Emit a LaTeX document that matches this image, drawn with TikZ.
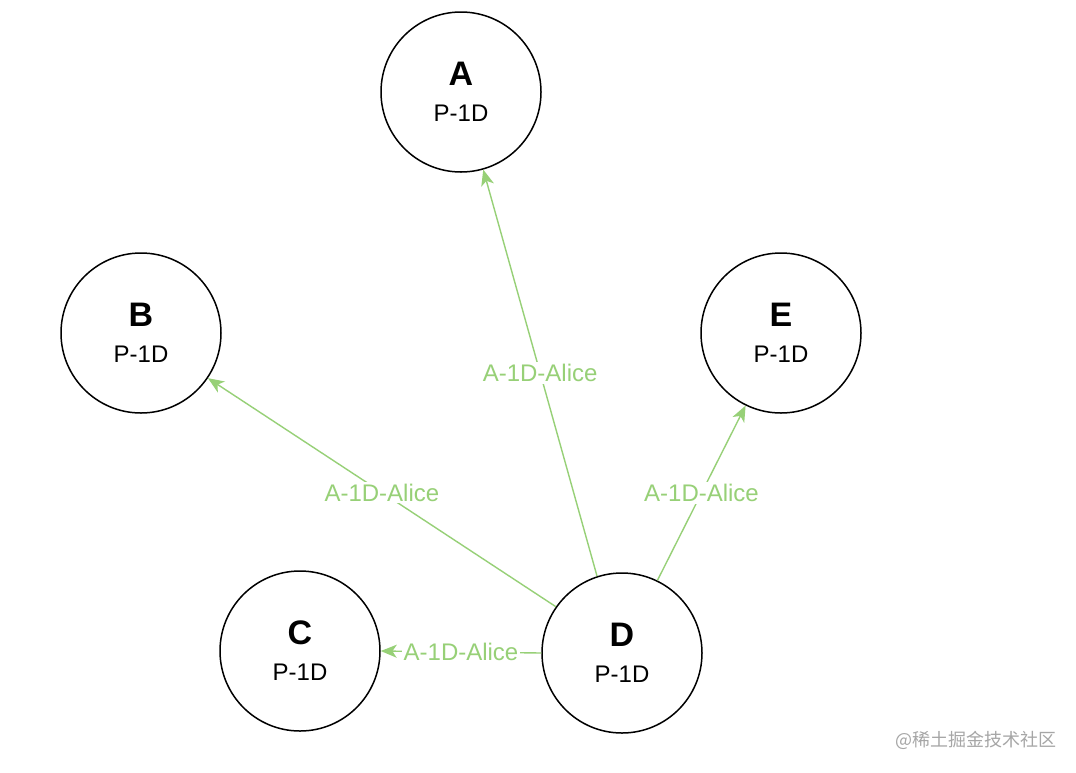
\documentclass[tikz,border=0pt]{standalone}
\usepackage{fontspec}
\setmainfont{Liberation Sans}
\newfontfamily\cjkfont{Noto Sans CJK SC}
\usetikzlibrary{arrows.meta}
\definecolor{linkc}{HTML}{97D077}
\definecolor{markc}{HTML}{A6A6A6}

\tikzset{
  peer/.style={circle, draw=black, line width=0.75pt, minimum size=80pt,
    inner sep=0pt, align=center, font=\fontsize{12}{16}\selectfont},
  link/.style={draw=linkc, line width=0.7pt,
    -{Stealth[length=8pt, width=6.5pt, inset=2.2pt]}},
  linklabel/.style={fill=white, text=linkc, inner sep=1pt,
    font=\fontsize{12}{14}\selectfont}
}
\newcommand{\peername}[1]{{\fontsize{17}{18}\selectfont\bfseries #1}\\[2pt]P-1D}

\begin{document}
\begin{tikzpicture}[x=0.5pt, y=-0.5pt]
  \useasboundingbox[fill=white] (0,0) rectangle (1076,772);
  % peers
  \node[peer] (A) at (461,92)  {\peername{A}};
  \node[peer] (B) at (141,333) {\peername{B}};
  \node[peer] (C) at (300,651) {\peername{C}};
  \node[peer] (D) at (622,653) {\peername{D}};
  \node[peer] (E) at (781,333) {\peername{E}};
  % D tells the others
  \draw[link] (D.108) -- (A.-74) node[linklabel, midway] {A-1D-Alice};
  \draw[link] (D.145) -- (B.-34) node[linklabel, midway] {A-1D-Alice};
  \draw[link] (D.west) -- (C.east) node[linklabel, midway] {A-1D-Alice};
  \draw[link] (D.64) -- (E.-116) node[linklabel, midway] {A-1D-Alice};
  % watermark
  \node[text=markc, font=\cjkfont\fontsize{9}{10}\selectfont] (mark) at (976,740)
    {@稀土掘金技术社区};
\end{tikzpicture}
\end{document}
